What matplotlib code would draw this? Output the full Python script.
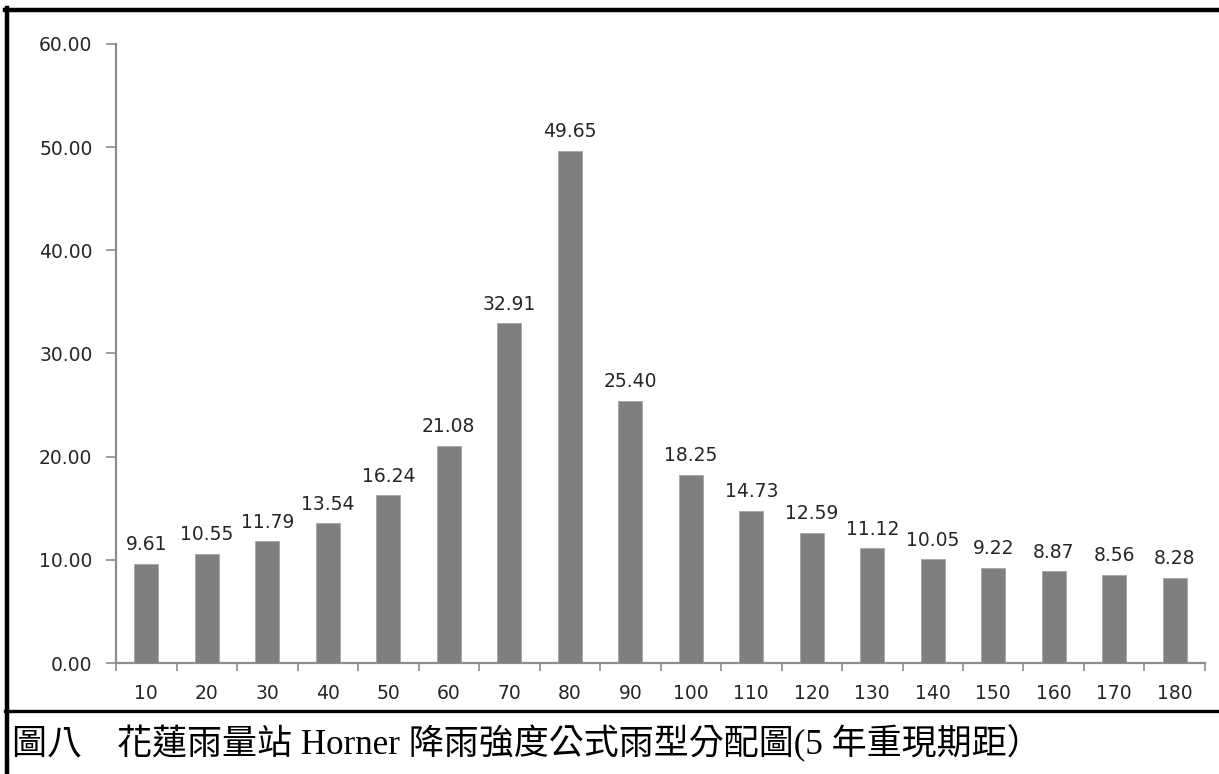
"""
花蓮雨量站 Horner 降雨強度公式雨型分配圖 (5 年重現期距)
"""
import numpy as np
import matplotlib
matplotlib.use('Agg')
import matplotlib.pyplot as plt
from matplotlib.lines import Line2D

# 資料 (時間 min, 雨量)
minutes = ['10', '20', '30', '40', '50', '60', '70', '80', '90', '100',
           '110', '120', '130', '140', '150', '160', '170', '180']
rain = [9.61, 10.55, 11.79, 13.54, 16.24, 21.08, 32.91, 49.65, 25.40, 18.25,
        14.73, 12.59, 11.12, 10.05, 9.22, 8.87, 8.56, 8.28]
y_ticks = [0, 10, 20, 30, 40, 50, 60]
caption = '圖八　花蓮雨量站 Horner 降雨強度公式雨型分配圖(5 年重現期距）'

fig = plt.figure(figsize=(12.19, 7.74), dpi=100)
ax = fig.add_axes([0.0952, 0.1434, 0.8933, 0.7998])

x = np.arange(len(minutes))
bars = ax.bar(x, rain, width=0.4, color='#7f7f7f', edgecolor='#a6a6a6', linewidth=0.6, zorder=3)

for xi, v in zip(x, rain):
    ax.annotate(f'{v:.2f}', (xi, v), xytext=(0, 7), textcoords='offset points',
                ha='center', va='bottom', fontsize=13.5, color='#262626')

ax.set_xlim(-0.5, len(minutes) - 0.5)
ax.set_ylim(0, 60)
ax.set_yticks(y_ticks)
ax.set_yticklabels([f'{t:.2f}' for t in y_ticks], fontsize=13.5, color='#262626')

# x 軸刻度在類別之間
ax.set_xticks(x)
ax.set_xticklabels(minutes, fontsize=13.5, color='#262626')
ax.tick_params(axis='x', length=0, pad=15)
ax.set_xticks(np.arange(-0.5, len(minutes)), minor=True)
ax.tick_params(axis='x', which='minor', length=6, color='#8c8c8c', width=1.2)
ax.tick_params(axis='y', length=7, color='#8c8c8c', width=1.2, pad=10)

for s in ['top', 'right']:
    ax.spines[s].set_visible(False)
for s in ['left', 'bottom']:
    ax.spines[s].set_color('#8c8c8c')
    ax.spines[s].set_linewidth(1.6)

# 外框線
fig.add_artist(Line2D([5 / 1219, 1], [1 - 10 / 774, 1 - 10 / 774], color='black', lw=3.2))
fig.add_artist(Line2D([7 / 1219, 7 / 1219], [0, 1 - 8 / 774], color='black', lw=3.2))
fig.add_artist(Line2D([5 / 1219, 1], [1 - 711 / 774, 1 - 711 / 774], color='black', lw=2.4))

fig.text(12 / 1219, 1 - 743 / 774, caption, fontsize=25.2, va='center', ha='left',
         family=['Liberation Serif', 'Noto Sans CJK TC'], color='black')

fig.savefig('out.png', dpi=100)
